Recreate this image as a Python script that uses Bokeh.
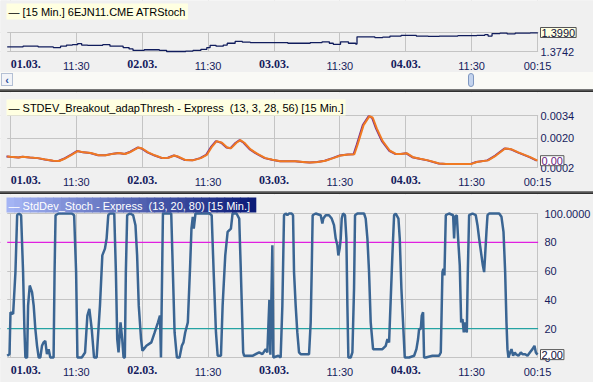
from bokeh.plotting import figure
from bokeh.models import (Range1d, FixedTicker, Label, Span, Div, ColumnDataSource,
                          LinearAxis, BoxAnnotation, PrintfTickFormatter)
from bokeh.layouts import column
from bokeh.transform import dodge
from bokeh.embed import file_html
from bokeh.resources import INLINE

# ---------------- data ----------------
tick_pos = [0, 1, 2, 3, 4, 5, 6, 7, 8]
tick_labels = ["01.03.", "11:30", "02.03.", "11:30", "03.03.", "11:30", "04.03.", "11:30", "00:15"]
date_ticks = [0, 2, 4, 6]

# panel 1: 6EJN11.CME price
atr_t = [-0.05, 0.13, 0.19, 0.42, 0.59, 0.65, 0.76, 0.85, 0.94, 1.02,
         1.08, 1.17, 1.34, 1.40, 1.51, 1.63, 1.71, 1.80, 1.86, 2.03,
         2.14, 2.26, 2.37, 2.54, 2.66, 2.77, 2.89, 2.98, 3.03, 3.12,
         3.23, 3.29, 3.41, 3.52, 3.64, 3.87, 4.10, 4.21, 4.38, 4.55,
         4.73, 4.84, 4.90, 5.01, 5.13, 5.24, 5.26, 5.36, 5.53, 5.65,
         5.76, 5.93, 6.05, 6.16, 6.34, 6.51, 6.68, 6.79, 6.97, 7.08,
         7.20, 7.25, 7.31, 7.43, 7.54, 7.66, 7.77, 7.89, 8.00]
atr_v = [1.3802, 1.3802, 1.3812, 1.3802, 1.3802, 1.3793, 1.3812, 1.3826, 1.3831, 1.3845,
         1.3826, 1.3822, 1.3822, 1.3831, 1.3812, 1.3812, 1.3793, 1.3775, 1.3756, 1.3765,
         1.3765, 1.3756, 1.3742, 1.3742, 1.3747, 1.3756, 1.3770, 1.3793, 1.3822, 1.3812,
         1.3826, 1.3850, 1.3873, 1.3864, 1.3859, 1.3859, 1.3859, 1.3850, 1.3850, 1.3859,
         1.3868, 1.3850, 1.3836, 1.3868, 1.3850, 1.3840, 1.3934, 1.3934, 1.3924, 1.3929,
         1.3943, 1.3953, 1.3953, 1.3943, 1.3939, 1.3943, 1.3943, 1.3948, 1.3948, 1.3953,
         1.3962, 1.3943, 1.3976, 1.3981, 1.3971, 1.3981, 1.3981, 1.3985, 1.3990]
atr_ticks = [1.3742, 1.3990]

# panel 2: STDEV_Breakout_adapThresh
sd_t = [-0.05, 0.00, 0.13, 0.19, 0.30, 0.42, 0.53, 0.65, 0.74, 0.82,
        0.94, 1.02, 1.11, 1.22, 1.34, 1.45, 1.57, 1.65, 1.74, 1.83,
        1.94, 2.00, 2.09, 2.20, 2.31, 2.40, 2.49, 2.54, 2.66, 2.77,
        2.89, 2.98, 3.06, 3.13, 3.21, 3.29, 3.35, 3.43, 3.49, 3.55,
        3.64, 3.75, 3.87, 3.98, 4.10, 4.21, 4.33, 4.44, 4.55, 4.67,
        4.78, 4.90, 5.01, 5.13, 5.22, 5.27, 5.36, 5.45, 5.50, 5.56,
        5.65, 5.76, 5.85, 5.93, 6.02, 6.11, 6.22, 6.34, 6.51, 6.62,
        6.74, 6.85, 7.00, 7.08, 7.25, 7.37, 7.51, 7.60, 7.71, 7.89,
        8.00]
sd_v = [0.000876, 0.000856, 0.000817, 0.000856, 0.000817, 0.000777, 0.000698, 0.000619, 0.000600, 0.000738,
        0.001014, 0.001211, 0.001132, 0.001093, 0.000955, 0.000955, 0.001053, 0.001093, 0.001034, 0.001172,
        0.001428, 0.001369, 0.001132, 0.000935, 0.000777, 0.000797, 0.000935, 0.000876, 0.000659, 0.000639,
        0.000777, 0.000974, 0.001487, 0.001822, 0.001724, 0.001428, 0.001389, 0.001724, 0.001882, 0.001724,
        0.001329, 0.001034, 0.000777, 0.000679, 0.000580, 0.000580, 0.000580, 0.000541, 0.000501, 0.000541,
        0.000619, 0.000777, 0.000935, 0.000994, 0.001014, 0.001625, 0.002808, 0.003361, 0.003262, 0.002611,
        0.001822, 0.001231, 0.001034, 0.001034, 0.001073, 0.000836, 0.000738, 0.000639, 0.000442, 0.000422,
        0.000422, 0.000422, 0.000422, 0.000541, 0.000639, 0.000935, 0.001369, 0.001329, 0.001132, 0.000836,
        0.000619]
sd_ticks = [0.0002, 0.0020, 0.0034]

# panel 3: StdDev_Stoch
st_t = [-0.050, -0.015, 0.000, 0.040, 0.075, 0.101, 0.126, 0.161, 0.191, 0.211,
        0.226, 0.252, 0.267, 0.292, 0.327, 0.352, 0.377, 0.403, 0.428, 0.453,
        0.478, 0.503, 0.528, 0.553, 0.579, 0.604, 0.654, 0.669, 0.684, 0.730,
        0.931, 0.966, 0.996, 1.016, 1.082, 1.132, 1.167, 1.197, 1.233, 1.268,
        1.308, 1.358, 1.394, 1.434, 1.459, 1.484, 1.509, 1.575, 1.600, 1.620,
        1.640, 1.670, 1.696, 1.716, 1.736, 1.751, 1.771, 1.811, 1.862, 1.897,
        1.922, 1.947, 1.982, 2.003, 2.023, 2.063, 2.138, 2.189, 2.239, 2.269,
        2.284, 2.314, 2.440, 2.465, 2.491, 2.526, 2.566, 2.601, 2.626, 2.652,
        2.692, 2.727, 2.747, 2.767, 2.782, 2.808, 2.868, 3.019, 3.054, 3.084,
        3.119, 3.145, 3.195, 3.220, 3.260, 3.296, 3.346, 3.371, 3.431, 3.472,
        3.497, 3.532, 3.547, 3.673, 3.774, 3.824, 3.874, 3.899, 3.930, 3.945,
        3.975, 3.990, 4.066, 4.101, 4.127, 4.152, 4.177, 4.203, 4.228, 4.268,
        4.289, 4.304, 4.329, 4.354, 4.380, 4.405, 4.532, 4.557, 4.572, 4.587,
        4.633, 4.709, 4.734, 4.749, 4.785, 4.835, 4.876, 4.911, 4.937, 4.962,
        4.977, 4.997, 5.013, 5.028, 5.048, 5.078, 5.099, 5.114, 5.129, 5.165,
        5.190, 5.215, 5.230, 5.266, 5.367, 5.392, 5.418, 5.443, 5.468, 5.504,
        5.544, 5.646, 5.696, 5.722, 5.747, 5.797, 5.823, 5.848, 5.889, 5.909,
        5.934, 5.959, 5.985, 6.051, 6.127, 6.162, 6.187, 6.203, 6.228, 6.243,
        6.263, 6.278, 6.304, 6.405, 6.506, 6.532, 6.557, 6.572, 6.587, 6.608,
        6.658, 6.719, 6.734, 6.749, 6.775, 6.795, 6.820, 6.841, 6.861, 6.881,
        6.901, 6.911, 6.927, 6.942, 6.962, 7.013, 7.063, 7.089, 7.114, 7.149,
        7.170, 7.190, 7.205, 7.225, 7.241, 7.266, 7.418, 7.453, 7.484, 7.509,
        7.529, 7.544, 7.559, 7.585, 7.605, 7.630, 7.656, 7.671, 7.711, 7.747,
        7.772, 7.813, 7.848, 7.884, 7.924, 7.954, 7.975, 8.000]
st_v = [1.2, 2.3, 31.4, 30.2, 59.3, 98.8, 100, 98.8, 59.3, 19.8,
        0, 0, 36.0, 50.0, 45.3, 36.0, 19.8, 8.1, 0, 0,
        8.1, 10.5, 11.6, 2.3, 5.8, 0, 0, 59.3, 98.8, 100,
        100, 98.8, 59.3, 0, 0, 3.5, 29.1, 33.7, 19.8, 0,
        0, 36.0, 70.9, 75.6, 82.6, 98.8, 100, 100, 59.3, 12.8,
        3.5, 24.4, 12.8, 0, 0, 59.3, 98.8, 100, 98.8, 91.9,
        70.9, 36.0, 12.8, 4.7, 5.8, 8.1, 10.5, 17.4, 24.4, 29.1,
        0, 100, 100, 59.3, 17.4, 0, 0, 8.1, 10.5, 17.4,
        24.4, 64.0, 89.5, 97.7, 89.5, 100, 100, 100, 98.8, 59.3,
        17.4, 1.2, 1.2, 36.0, 70.9, 87.2, 89.5, 100, 100, 96.5,
        59.3, 3.5, 1.2, 1.2, 3.5, 2.3, 5.8, 3.5, 40.0, 2.0,
        78.0, 0, 1.2, 0, 36.0, 98.8, 100, 98.8, 100, 100,
        98.8, 59.3, 36.0, 17.4, 3.5, 2.3, 2.3, 24.4, 59.3, 98.8,
        100, 98.8, 93.0, 96.5, 98.8, 98.8, 96.5, 91.9, 82.6, 77.9,
        70.9, 75.6, 82.6, 96.5, 100, 98.8, 82.6, 36.0, 0, 0,
        3.5, 47.7, 98.8, 100, 100, 96.5, 82.6, 59.3, 24.4, 5.8,
        5.8, 5.8, 8.1, 12.8, 10.5, 70.9, 98.8, 100, 96.5, 82.6,
        47.7, 24.4, 0, 0, 1.2, 5.8, 12.8, 19.8, 19.8, 29.1,
        31.4, 0, 0, 1.2, 1.2, 3.5, 59.3, 61.6, 57.0, 98.8,
        100, 98.8, 82.6, 97.7, 98.8, 82.6, 64.0, 24.4, 26.7, 17.4,
        24.4, 19.8, 17.4, 59.3, 98.8, 100, 98.8, 91.9, 82.6, 70.9,
        64.0, 59.3, 70.9, 87.2, 98.8, 100, 100, 97.7, 87.2, 59.3,
        24.4, 5.8, 0, 3.5, 5.8, 1.2, 3.5, 2.3, 1.2, 3.5,
        2.3, 2.3, 1.2, 3.5, 5.8, 8.1, 3.5, 2.0]
st_ticks = [0, 20, 40, 60, 80, 100]
upper_level = 80
lower_level = 20

# ---------------- style / layout ----------------
W = 593
BG = "#F0F0F0"
GRID = "#C4C4C4"
NAVY = "#161C5E"
FONT = "Liberation Sans"
PX_PER_UNIT = 65.875         # horizontal scale: pixels per half-day
X0_PX = 10                   # pixel position of the first time tick
X_START = -X0_PX / PX_PER_UNIT
X_END = (W - X0_PX) / PX_PER_UNIT
FIRST_LABEL_SHIFT = 0.23     # "01.03." is drawn left-aligned at its grid line


def make_fig(H, yticks, top_px, bot_px, yfmt, yoverrides, ystand, data_left):
    vmin, vmax = yticks[0], yticks[-1]
    per = (vmax - vmin) / (bot_px - top_px)
    y_start = vmin - (H - bot_px) * per
    y_end = vmax + top_px * per
    p = figure(width=W, height=H,
               x_range=Range1d(X_START, X_END), y_range=Range1d(y_start, y_end),
               y_axis_location="right", output_backend="svg", toolbar_location=None,
               background_fill_color=BG, border_fill_color=BG, outline_line_color=None,
               min_border=0)

    # time axes: plain labels (drive the grid) + bold date labels on the same row
    xa = p.xaxis[0]
    xa.ticker = FixedTicker(ticks=tick_pos)
    xa.fixed_location = vmin
    xa.major_label_overrides = {t: ("" if t in date_ticks else l) for t, l in zip(tick_pos, tick_labels)}
    dticks = [t + (FIRST_LABEL_SHIFT if t == tick_pos[0] else 0) for t in date_ticks]
    da = LinearAxis(ticker=FixedTicker(ticks=dticks), fixed_location=vmin,
                    major_label_overrides={dt: tick_labels[tick_pos.index(t)] for dt, t in zip(dticks, date_ticks)})
    p.add_layout(da, "below")
    for ax in (xa, da):
        ax.axis_line_color = None
        ax.major_tick_line_color = None
        ax.minor_tick_line_color = None
        ax.major_tick_out = 0
        ax.major_tick_in = 0
        ax.major_label_standoff = 8
        ax.major_label_text_color = NAVY
    xa.major_label_text_font = FONT
    xa.major_label_text_font_size = "11px"
    da.major_label_text_font = "Liberation Serif"
    da.major_label_text_font_style = "bold"
    da.major_label_text_font_size = "12px"

    ya = p.yaxis[0]
    ya.ticker = FixedTicker(ticks=yticks)
    ya.fixed_location = tick_pos[-1]
    if yfmt:
        ya.formatter = PrintfTickFormatter(format=yfmt)
    ya.major_label_overrides = yoverrides
    ya.axis_line_color = None
    ya.major_tick_line_color = None
    ya.minor_tick_line_color = None
    ya.major_tick_out = 0
    ya.major_tick_in = 0
    ya.major_label_standoff = ystand
    ya.major_label_text_font = FONT
    ya.major_label_text_font_size = "11px"
    ya.major_label_text_color = NAVY

    p.xgrid.grid_line_color = GRID
    p.ygrid.grid_line_color = GRID
    p._cover = (vmin, vmax, per, data_left, H)
    return p


def caption(p, text, tbg, tcol, top):
    H = p._cover[4]
    p.add_layout(Label(x=6, y=H - top, x_units="screen", y_units="screen", text=text,
                       text_baseline="top", text_font=FONT, text_font_size="11px",
                       text_color=tcol, background_fill_color=tbg, padding=2))


def gradient_caption(p, text, top, width, height, c0, c1, n=32):
    # active-window caption: horizontal colour gradient behind white text
    H = p._cover[4]
    step = width / n
    for i in range(n):
        f = i / (n - 1)
        col = "#%02x%02x%02x" % tuple(int(a + (b - a) * f) for a, b in zip(c0, c1))
        p.add_layout(BoxAnnotation(left=6 + i * step, right=6 + (i + 1) * step + 0.8,
                                   top=H - top, bottom=H - top - height,
                                   left_units="screen", right_units="screen",
                                   top_units="screen", bottom_units="screen",
                                   fill_color=col, fill_alpha=1, line_color=None))
    p.add_layout(Label(x=8, y=H - top - 2, x_units="screen", y_units="screen", text=text,
                       text_baseline="top", text_font=FONT, text_font_size="11px",
                       text_color="#FFFFFF"))


def cover_outside(p):
    # keep grid and level lines inside the chart area only
    vmin, vmax, per, data_left, _ = p._cover
    ex = 0.6 / PX_PER_UNIT
    for kw in (dict(left=tick_pos[-1] + ex), dict(right=data_left),
               dict(bottom=vmax + 0.6 * per), dict(top=vmin - 0.6 * per)):
        p.add_layout(BoxAnnotation(fill_color=BG, fill_alpha=1, line_color=None,
                                   level="underlay", **kw))


def value_box(p, x, y, text, bg, col):
    p.add_layout(Label(x=x, y=y, x_offset=3, text=text, text_baseline="middle",
                       text_font=FONT, text_font_size="11px", text_color=col,
                       background_fill_color=bg, border_line_color="#555555",
                       padding=1))


# panel 1
p1 = make_fig(72, atr_ticks, 32, 51, "%.4f", {atr_ticks[-1]: ""}, 3, atr_t[0])
caption(p1, "\u2014 [15 Min.] 6EJN11.CME ATRStoch", "#FFFFE1", "#000000", 3)
cover_outside(p1)
p1.step(atr_t, atr_v, mode="after", line_color="#101C5C", line_width=1.3)
value_box(p1, atr_t[-1], atr_v[-1], f"{atr_v[-1]:.4f}", "#FFFFE1", "#101040")

# panel 2
p2 = make_fig(99, sd_ticks, 23, 75, "%.4f", {}, 3, sd_t[0])
caption(p2, "\u2014 STDEV_Breakout_adapThresh - Express \u00a0(13, 3, 28, 56) [15 Min.]",
        "#FFFFE1", "#000000", 7)
cover_outside(p2)
src2 = ColumnDataSource(dict(t=sd_t, v=sd_v))
p2.line(x=dodge("t", -0.012), y="v", source=src2, line_color="#7B2E8C", line_width=2)
p2.line(x="t", y="v", source=src2, line_color="#F07A22", line_width=2)
value_box(p2, sd_t[-1], sd_v[-1], f"{sd_v[-1]:.2f}", "#FFFFFF", "#6A2080")

# panel 3
p3 = make_fig(188, st_ticks, 19, 163, None, {100: "100.0000"}, 7, st_t[0])
gradient_caption(p3, "\u2014 StdDev_Stoch - Express \u00a0(13, 20, 80) [15 Min.]",
                 3, 249, 15, (0xA4, 0xB4, 0xF4), (0x0C, 0x1C, 0x78))
p3.add_layout(Span(location=upper_level, dimension="width", line_color="#E020E0",
                   line_width=1.3, level="underlay"))
p3.add_layout(Span(location=lower_level, dimension="width", line_color="#25A3A3",
                   line_width=1.3, level="underlay"))
cover_outside(p3)
p3.line(st_t, st_v, line_color="#3A6593", line_width=2.5)
value_box(p3, st_t[-1], st_v[-1], f"{st_v[-1]:.2f}", "#FFFFFF", "#101040")

scroll = Div(width=W, height=17, margin=(0, 0, 0, 0), text=(
    '<div style="position:relative;width:593px;height:17px;background:#FAFAF6;">'
    '<div style="position:absolute;left:1px;top:1px;width:12px;height:13px;'
    'border:1px solid #B4C0D4;background:#F2F4F8;color:#3050A0;font:bold 11px sans-serif;'
    'text-align:center;line-height:13px;">&lsaquo;</div>'
    '<div style="position:absolute;left:468px;top:1px;width:6px;height:14px;'
    'border:1px solid #8098C0;border-radius:3px;background:#C4D4EE;"></div></div>'))
sep1 = Div(width=W, height=3, margin=(0, 0, 0, 0),
           styles={"background": "linear-gradient(#8a8a8a, #1e1e1e)"})
sep2 = Div(width=W, height=3, margin=(0, 0, 0, 0),
           styles={"background": "linear-gradient(#8a8a8a, #1e1e1e)"})

layout = column(p1, scroll, sep1, p2, sep2, p3, spacing=0)
open("out.html", "w").write(file_html(layout, INLINE))
